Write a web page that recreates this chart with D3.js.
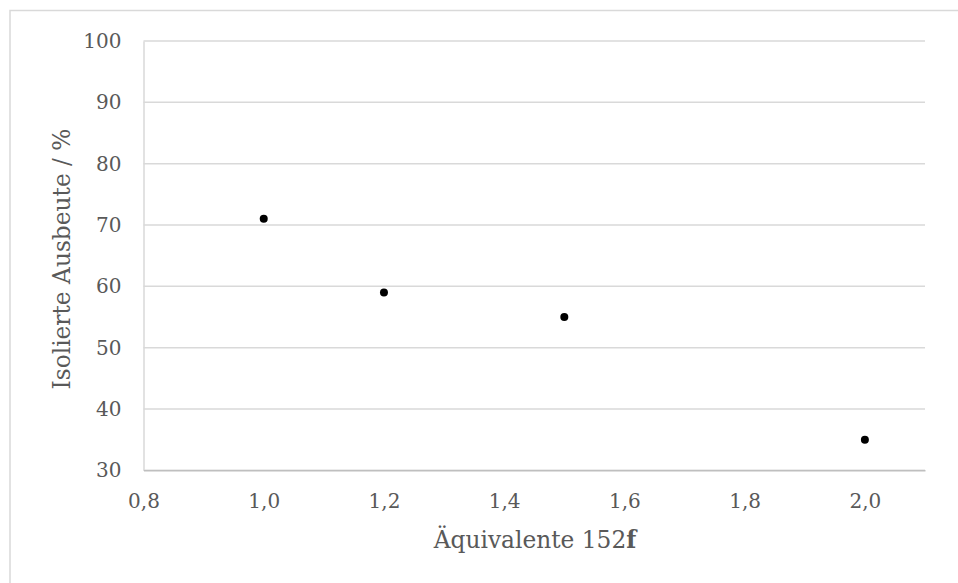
<!DOCTYPE html>
<html><head><meta charset="utf-8">
<script src="https://cdn.jsdelivr.net/npm/d3@7"></script>
<style>body{margin:0;background:#fff;overflow:hidden}svg{display:block}</style>
</head><body>
<script>
const xValues = [1.0, 1.2, 1.5, 2.0];
const yValues = [71, 59, 55, 35];
const xTicks = [0.8, 1.0, 1.2, 1.4, 1.6, 1.8, 2.0];
const yTicks = [30, 40, 50, 60, 70, 80, 90, 100];
const xTitle = "Äquivalente 152";
const xTitleBold = "f";
const yTitle = "Isolierte Ausbeute / %";

const W = 958, H = 583;
const m = {left: 143.5, right: 958 - 925, top: 41, bottom: 583 - 470.3};
const font = "'DejaVu Serif', serif";
const txt = "#595959";
const tickSize = 20, titleSize = 23.3;

const svg = d3.select("body").append("svg").attr("width", W).attr("height", H);
// chart border (extends past the right and bottom edges)
svg.append("rect").attr("x", 10).attr("y", 10.5).attr("width", W + 20).attr("height", H + 20)
  .attr("fill", "#fff").attr("stroke", "#d9d9d9").attr("stroke-width", 1.5);

const x = d3.scaleLinear().domain([0.8, 2.1]).range([m.left, W - m.right]);
const y = d3.scaleLinear().domain([30, 100]).range([H - m.bottom, m.top]);

const fmt = d => d3.format(".1f")(d).replace(".", ",");

// gridlines
svg.append("g").selectAll("line").data(yTicks).join("line")
  .attr("x1", m.left).attr("x2", W - m.right)
  .attr("y1", d => y(d)).attr("y2", d => y(d))
  .attr("stroke", "#d9d9d9").attr("stroke-width", 1.5);

// y axis
const ya = svg.append("g").attr("transform", `translate(${m.left},0)`)
  .call(d3.axisLeft(y).tickValues(yTicks).tickSize(0).tickPadding(22));
ya.select(".domain").attr("stroke", "#d9d9d9").attr("stroke-width", 1.5);
ya.selectAll("text").attr("font-family", font).attr("font-size", tickSize).attr("fill", txt);

// x axis
const xa = svg.append("g").attr("transform", `translate(0,${H - m.bottom})`)
  .call(d3.axisBottom(x).tickValues(xTicks).tickFormat(fmt).tickSize(0).tickPadding(24));
xa.select(".domain").attr("stroke", "#bfbfbf").attr("stroke-width", 1.5);
xa.selectAll("text").attr("font-family", font).attr("font-size", tickSize).attr("fill", txt);

// points
svg.append("g").selectAll("circle").data(xValues).join("circle")
  .attr("cx", (d) => x(d)).attr("cy", (d, i) => y(yValues[i])).attr("r", 4).attr("fill", "#000");

// titles
const xt = svg.append("text").attr("x", 535).attr("y", 548)
  .attr("text-anchor", "middle").attr("font-family", font).attr("font-size", titleSize).attr("fill", txt);
xt.append("tspan").text(xTitle);
xt.append("tspan").attr("font-weight", "bold").text(xTitleBold);

svg.append("text").attr("transform", `translate(70,259) rotate(-90)`)
  .attr("text-anchor", "middle").attr("font-family", font).attr("font-size", titleSize).attr("fill", txt)
  .text(yTitle);
</script>
</body></html>
